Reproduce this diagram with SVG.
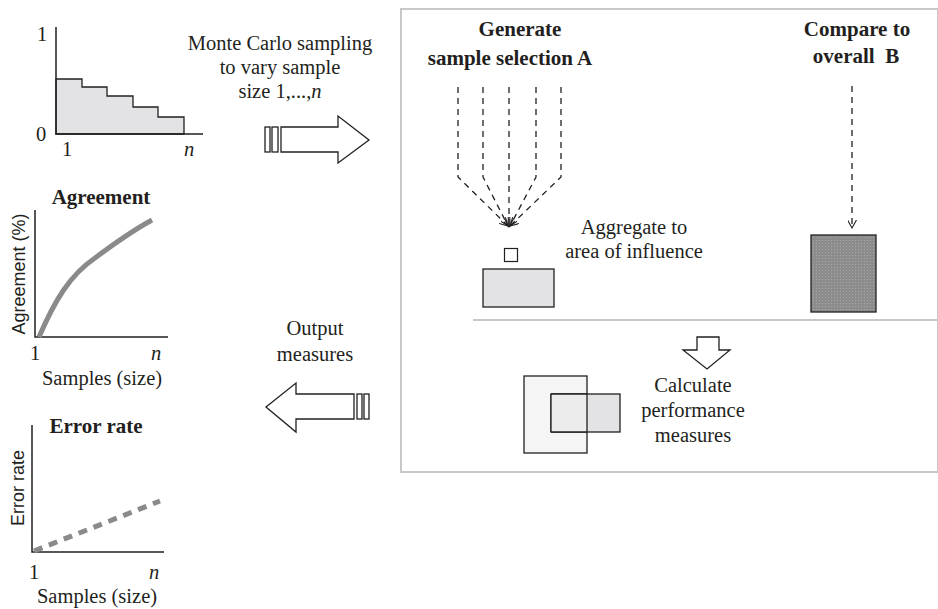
<svg xmlns="http://www.w3.org/2000/svg" width="938" height="609" viewBox="0 0 938 609">
<defs>
<style>
.serif{font-family:"Liberation Serif","Times New Roman",serif;fill:#231f20}
.sans{font-family:"Liberation Sans",Arial,sans-serif;fill:#231f20}
.t{font-size:20.5px}
.b{font-size:21px;font-weight:bold}
.ax{stroke:#231f20;stroke-width:1.5;fill:none}
.ln{stroke:#231f20;stroke-width:1.3;fill:#fff}
.dash{stroke:#231f20;stroke-width:1.3;stroke-dasharray:6,5;fill:none}
</style>
<marker id="ah" viewBox="0 0 10 10" refX="9" refY="5" markerWidth="9" markerHeight="9" markerUnits="userSpaceOnUse" orient="auto">
<path d="M0,0 L9,5 L0,10" fill="none" stroke="#231f20" stroke-width="1.2"/>
</marker>
<pattern id="stip" width="3" height="3" patternUnits="userSpaceOnUse">
<rect width="3" height="3" fill="#8c8c8c"/>
<rect width="1" height="1" fill="#a8a8a8"/>
</pattern>
</defs>
<rect width="938" height="609" fill="#fff"/>

<g id="chart-input">
<path d="M56,134 L56,79 L82,79 L82,87 L107,87 L107,96 L133,96 L133,107 L158,107 L158,117 L184,117 L184,134 Z" fill="#e3e3e5" stroke="#231f20" stroke-width="1.3"/>
<path class="ax" d="M56,27 L56,134 L203,134"/>
<text class="serif t" x="37" y="41">1</text>
<text class="serif t" x="36" y="141">0</text>
<text class="serif t" x="62" y="156">1</text>
<text class="serif t" x="184" y="156" font-style="italic">n</text>
</g>

<g id="chart-agreement">
<text class="serif b" x="101" y="204" text-anchor="middle">Agreement</text>
<path class="ax" d="M35,210 L35,337 L168,337"/>
<path d="M39,337 C55,300 70,275 95,258 C115,243 130,232 152,220" fill="none" stroke="#8a8a8c" stroke-width="5"/>
<text class="sans" font-size="18" transform="translate(25,274) rotate(-90)" text-anchor="middle">Agreement (%)</text>
<text class="serif t" x="30" y="360">1</text>
<text class="serif t" x="151" y="360" font-style="italic">n</text>
<text class="serif t" x="102" y="385" text-anchor="middle">Samples (size)</text>
</g>

<g id="chart-error">
<text class="serif b" x="96" y="433" text-anchor="middle">Error rate</text>
<path class="ax" d="M32,425 L32,552 L164,552"/>
<path d="M34,551 L160,501" fill="none" stroke="#8a8a8c" stroke-width="5" stroke-dasharray="9,7"/>
<text class="sans" font-size="18" transform="translate(24,488) rotate(-90)" text-anchor="middle">Error rate</text>
<text class="serif t" x="29" y="579">1</text>
<text class="serif t" x="149" y="579" font-style="italic">n</text>
<text class="serif t" x="97" y="603" text-anchor="middle">Samples (size)</text>
</g>

<g id="monte-carlo">
<text class="serif t" x="280" y="50" text-anchor="middle">Monte Carlo sampling</text>
<text class="serif t" x="280" y="74" text-anchor="middle">to vary sample</text>
<text class="serif t" x="280" y="98" text-anchor="middle">size 1,...,<tspan font-style="italic">n</tspan></text>
<rect class="ln" x="265" y="127" width="5" height="25"/>
<rect class="ln" x="272" y="127" width="6" height="25"/>
<path class="ln" d="M281,127 L338,127 L338,116 L369,140 L338,163 L338,152 L281,152 Z"/>
</g>

<g id="output-measures">
<text class="serif t" x="315" y="335" text-anchor="middle">Output</text>
<text class="serif t" x="315" y="361" text-anchor="middle">measures</text>
<rect class="ln" x="357" y="394" width="5" height="25"/>
<rect class="ln" x="364" y="394" width="5" height="25"/>
<path class="ln" d="M354,394 L296,394 L296,383 L266,407 L296,432 L296,419 L354,419 Z"/>
</g>

<g id="process-box">
<rect x="401" y="9" width="537" height="463" fill="none" stroke="#c8c8ca" stroke-width="2"/>
<line x1="473" y1="320" x2="938" y2="320" stroke="#c8c8ca" stroke-width="2"/>
</g>

<g id="generate">
<text class="serif b" x="520" y="36" text-anchor="middle">Generate</text>
<text class="serif b" x="510" y="65" text-anchor="middle">sample selection A</text>
</g>

<g id="compare">
<text class="serif b" x="857" y="36" text-anchor="middle">Compare to</text>
<text class="serif b" x="856" y="63" text-anchor="middle" xml:space="preserve">overall  B</text>
</g>

<g id="aggregate">
<text class="serif t" x="634" y="234" text-anchor="middle">Aggregate to</text>
<text class="serif t" x="634" y="258" text-anchor="middle">area of influence</text>
<rect x="504.5" y="248.5" width="13" height="13" fill="#fff" stroke="#231f20" stroke-width="1.2"/>
<rect x="483" y="269" width="71" height="38" fill="#e3e3e5" stroke="#231f20" stroke-width="1.3"/>
</g>

<g id="overall-b">
<rect x="811" y="235" width="65" height="77" fill="url(#stip)" stroke="#231f20" stroke-width="1.3"/>
</g>

<g id="calculate">
<path class="ln" d="M697,337 L719,337 L719,350 L730,350 L707,369 L683,350 L697,350 Z"/>
<rect x="524" y="376" width="63" height="77" fill="#f5f5f6"/>
<rect x="551" y="394" width="69" height="38" fill="#e3e3e5" stroke="#231f20" stroke-width="1.3"/>
<rect x="551" y="394" width="36" height="38" fill="#ececed"/>
<rect x="524" y="376" width="63" height="77" fill="none" stroke="#231f20" stroke-width="1.3"/>
<line x1="551" y1="394" x2="587" y2="394" stroke="#231f20" stroke-width="1.3"/>
<line x1="551" y1="394" x2="551" y2="432" stroke="#231f20" stroke-width="1.3"/>
<line x1="551" y1="432" x2="587" y2="432" stroke="#231f20" stroke-width="1.3"/>
<text class="serif t" x="693" y="392" text-anchor="middle">Calculate</text>
<text class="serif t" x="693" y="417" text-anchor="middle">performance</text>
<text class="serif t" x="693" y="442" text-anchor="middle">measures</text>
</g>

<g id="connectors">
<path class="dash" d="M458,87 L458,177 L508,226" marker-end="url(#ah)"/>
<path class="dash" d="M483,87 L483,177 L508,226" marker-end="url(#ah)"/>
<path class="dash" d="M509,87 L509,227" marker-end="url(#ah)"/>
<path class="dash" d="M536,87 L536,177 L510,226" marker-end="url(#ah)"/>
<path class="dash" d="M561,87 L561,177 L510,226" marker-end="url(#ah)"/>
<path class="dash" d="M852,86 L852,228" marker-end="url(#ah)"/>
</g>
</svg>
